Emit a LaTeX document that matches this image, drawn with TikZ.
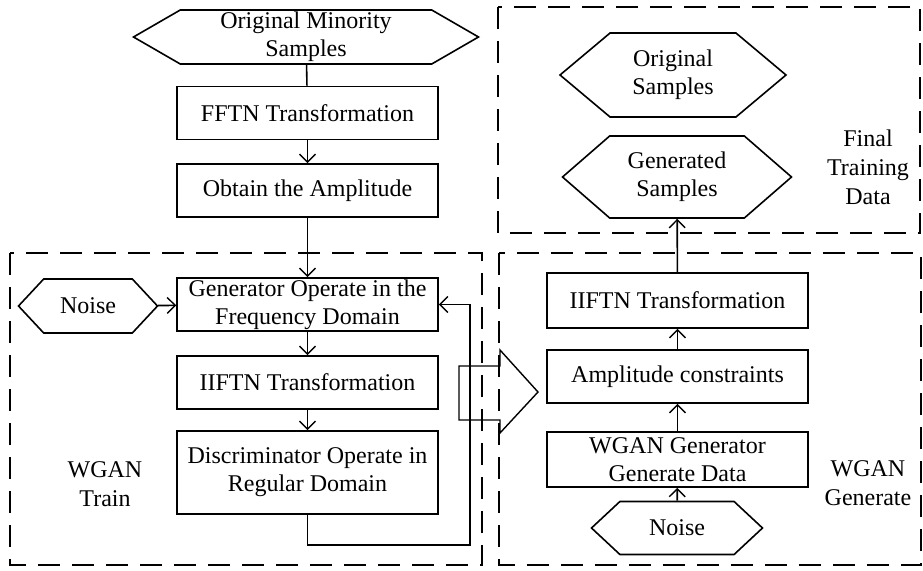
\documentclass[tikz,border=0pt]{standalone}
\usepackage{fontspec}
\setmainfont{Liberation Serif}
\usetikzlibrary{shapes.symbols,arrows.meta}

\begin{document}
\begin{tikzpicture}[x=1pt,y=-1pt]
    \pgfmathsetmacro{\bw}{261}	%box width
    \pgfmathsetmacro{\bh}{53}

    \tikzset{
        stepbox/.style={draw, line width=1.6pt, minimum width=\bw pt, minimum height=\bh pt, inner sep=0pt, align=center, font=\fontsize{24}{28}\selectfont},
        hexa/.style={draw, line width=1.6pt, shape=signal, signal to=east and west, signal pointer angle=#1, inner sep=0pt, align=center, font=\fontsize{24}{28}\selectfont},
        region/.style={draw, line width=2pt, dash pattern=on 22pt off 12pt},
        label/.style={align=center, font=\fontsize{24}{29}\selectfont},
        arr/.style={-{Straight Barb[length=8pt,width=16pt,line width=1.4pt]}, line width=1.6pt}
    }

    \useasboundingbox (0,0) rectangle (923,570);

    % dashed regions
    \draw[region] (10,253) rectangle (482,565);
    \draw[region] (499,253) rectangle (921,565);
    \draw[region] (498,7) rectangle (920,233);

    % left column
    \node[hexa=60, minimum width=345pt, minimum height=54pt] (minority) at (306,37) {Original Minority\\Samples};
    \node[stepbox] (fftn) at (307.5,113) {FFTN Transformation};
    \node[stepbox] (obtain) at (307.5,190.5) {Obtain the Amplitude};
    \node[stepbox] (gen) at (307.5,304.5) {Generator Operate in the\\Frequency Domain};
    \node[stepbox] (ifftn) at (307.5,382.5) {IIFTN Transformation};
    \node[stepbox, minimum height=83pt] (disc) at (307.5,472.5) {Discriminator Operate in\\Regular Domain};
    \node[hexa=94, minimum width=139pt, minimum height=54pt] (noiseL) at (88,306) {Noise};
    \node[label] (train) at (105,484) {WGAN\\Train};
    \coordinate (fbk) at (470,545);

    % right column
    \node[hexa=80, minimum width=226pt, minimum height=84pt] (origS) at (673,75) {Original\\Samples};
    \node[hexa=82, minimum width=229pt, minimum height=82pt] (genS) at (677,177) {Generated\\Samples};
    \node[stepbox, minimum height=55pt] (ifftnR) at (677.5,300.5) {IIFTN Transformation};
    \node[stepbox] (amp) at (677.5,376.5) {Amplitude constraints};
    \node[stepbox, minimum height=55pt] (wgen) at (677.5,459.5) {WGAN Generator\\Generate Data};
    \node[hexa=86, minimum width=171pt, minimum height=53pt] (noiseR) at (677,528) {Noise};
    \node[label] (final) at (868,167) {Final\\Training\\Data};
    \node[label] (generate) at (868,483) {WGAN\\Generate};

    % connectors
    \draw[line width=1.6pt] (minority) -- (fftn);
    \draw[arr] (fftn) -- (obtain);
    \draw[arr] (obtain) -- (gen);
    \draw[arr] (noiseL) -- (gen);
    \draw[arr] (gen) -- (ifftn);
    \draw[arr] (ifftn) -- (disc);
    \draw[arr] (disc.south) |- (fbk) |- (gen.east);
    \draw[arr] (noiseR) -- (wgen);
    \draw[arr] (wgen) -- (amp);
    \draw[arr] (amp) -- (ifftnR);
    \draw[arr] (ifftnR) -- (genS);

    % hollow arrow between the stages
    \coordinate (B1) at (459,366);
    \coordinate (B2) at (500,366);
    \coordinate (B3) at (500,350);
    \coordinate (B4) at (538,392);
    \coordinate (B5) at (500,433);
    \coordinate (B6) at (500,420);
    \coordinate (B7) at (459,420);
    \draw[line width=1.4pt] (B1) -- (B2) -- (B3) -- (B4) -- (B5) -- (B6) -- (B7) -- cycle;
\end{tikzpicture}
\end{document}
